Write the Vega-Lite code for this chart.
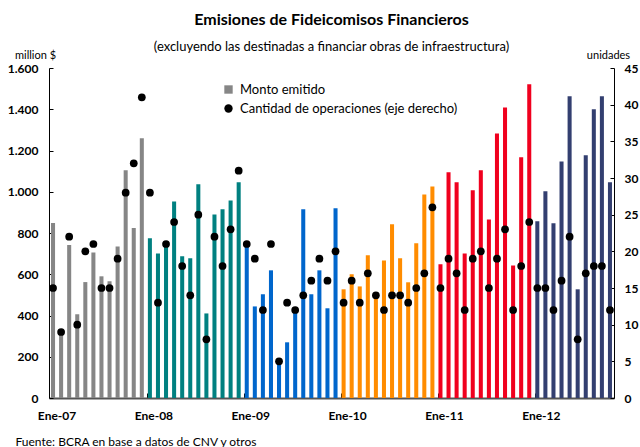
{
  "$schema": "https://vega.github.io/schema/vega-lite/v6.json",
  "width": 565,
  "height": 330,
  "autosize": {"type": "none"},
  "padding": {"left": 49, "top": 68, "right": 26, "bottom": 49},
  "config": {
    "view": {"stroke": null},
    "font": "Lato",
    "axis": {"grid": false},
    "legend": {
      "orient": "none",
      "legendX": 173,
      "legendY": 15,
      "title": null,
      "labelFontSize": 13,
      "labelFontWeight": "normal",
      "labelColor": "#000",
      "labelLimit": 400,
      "symbolSize": 70,
      "symbolStrokeWidth": 0,
      "rowPadding": 5,
      "labelOffset": 5,
      "padding": 0
    }
  },
  "title": {
    "text": "Emisiones de Fideicomisos Financieros",
    "subtitle": "(excluyendo las destinadas a financiar obras de infraestructura)",
    "fontSize": 16,
    "fontWeight": "bold",
    "color": "#000",
    "subtitleFontSize": 13,
    "subtitleColor": "#000",
    "anchor": "middle",
    "offset": -5,
    "subtitlePadding": 13
  },
  "data": {
    "values": [
      {"mes": "2007-01", "anio": "2007", "monto": 848, "ops": 15},
      {"mes": "2007-02", "anio": "2007", "monto": 315, "ops": 9},
      {"mes": "2007-03", "anio": "2007", "monto": 742, "ops": 22},
      {"mes": "2007-04", "anio": "2007", "monto": 406, "ops": 10},
      {"mes": "2007-05", "anio": "2007", "monto": 562, "ops": 20},
      {"mes": "2007-06", "anio": "2007", "monto": 706, "ops": 21},
      {"mes": "2007-07", "anio": "2007", "monto": 590, "ops": 15},
      {"mes": "2007-08", "anio": "2007", "monto": 566, "ops": 15},
      {"mes": "2007-09", "anio": "2007", "monto": 735, "ops": 19},
      {"mes": "2007-10", "anio": "2007", "monto": 1104, "ops": 28},
      {"mes": "2007-11", "anio": "2007", "monto": 824, "ops": 32},
      {"mes": "2007-12", "anio": "2007", "monto": 1259, "ops": 41},
      {"mes": "2008-01", "anio": "2008", "monto": 774, "ops": 28},
      {"mes": "2008-02", "anio": "2008", "monto": 701, "ops": 13},
      {"mes": "2008-03", "anio": "2008", "monto": 735, "ops": 21},
      {"mes": "2008-04", "anio": "2008", "monto": 953, "ops": 24},
      {"mes": "2008-05", "anio": "2008", "monto": 687, "ops": 18},
      {"mes": "2008-06", "anio": "2008", "monto": 677, "ops": 14},
      {"mes": "2008-07", "anio": "2008", "monto": 1036, "ops": 25},
      {"mes": "2008-08", "anio": "2008", "monto": 410, "ops": 8},
      {"mes": "2008-09", "anio": "2008", "monto": 890, "ops": 22},
      {"mes": "2008-10", "anio": "2008", "monto": 915, "ops": 18},
      {"mes": "2008-11", "anio": "2008", "monto": 958, "ops": 23},
      {"mes": "2008-12", "anio": "2008", "monto": 1046, "ops": 31},
      {"mes": "2009-01", "anio": "2009", "monto": 735, "ops": 21},
      {"mes": "2009-02", "anio": "2009", "monto": 444, "ops": 19},
      {"mes": "2009-03", "anio": "2009", "monto": 503, "ops": 12},
      {"mes": "2009-04", "anio": "2009", "monto": 619, "ops": 21},
      {"mes": "2009-05", "anio": "2009", "monto": 170, "ops": 5},
      {"mes": "2009-06", "anio": "2009", "monto": 270, "ops": 13},
      {"mes": "2009-07", "anio": "2009", "monto": 425, "ops": 12},
      {"mes": "2009-08", "anio": "2009", "monto": 915, "ops": 14},
      {"mes": "2009-09", "anio": "2009", "monto": 503, "ops": 16},
      {"mes": "2009-10", "anio": "2009", "monto": 619, "ops": 19},
      {"mes": "2009-11", "anio": "2009", "monto": 435, "ops": 16},
      {"mes": "2009-12", "anio": "2009", "monto": 920, "ops": 20},
      {"mes": "2010-01", "anio": "2010", "monto": 527, "ops": 13},
      {"mes": "2010-02", "anio": "2010", "monto": 600, "ops": 16},
      {"mes": "2010-03", "anio": "2010", "monto": 541, "ops": 13},
      {"mes": "2010-04", "anio": "2010", "monto": 692, "ops": 17},
      {"mes": "2010-05", "anio": "2010", "monto": 495, "ops": 14},
      {"mes": "2010-06", "anio": "2010", "monto": 667, "ops": 12},
      {"mes": "2010-07", "anio": "2010", "monto": 842, "ops": 14},
      {"mes": "2010-08", "anio": "2010", "monto": 677, "ops": 14},
      {"mes": "2010-09", "anio": "2010", "monto": 561, "ops": 13},
      {"mes": "2010-10", "anio": "2010", "monto": 750, "ops": 15},
      {"mes": "2010-11", "anio": "2010", "monto": 987, "ops": 17},
      {"mes": "2010-12", "anio": "2010", "monto": 1026, "ops": 26},
      {"mes": "2011-01", "anio": "2011", "monto": 648, "ops": 15},
      {"mes": "2011-02", "anio": "2011", "monto": 1094, "ops": 19},
      {"mes": "2011-03", "anio": "2011", "monto": 1046, "ops": 17},
      {"mes": "2011-04", "anio": "2011", "monto": 701, "ops": 12},
      {"mes": "2011-05", "anio": "2011", "monto": 1007, "ops": 19},
      {"mes": "2011-06", "anio": "2011", "monto": 1104, "ops": 20},
      {"mes": "2011-07", "anio": "2011", "monto": 866, "ops": 15},
      {"mes": "2011-08", "anio": "2011", "monto": 1283, "ops": 19},
      {"mes": "2011-09", "anio": "2011", "monto": 1409, "ops": 23},
      {"mes": "2011-10", "anio": "2011", "monto": 643, "ops": 12},
      {"mes": "2011-11", "anio": "2011", "monto": 1167, "ops": 18},
      {"mes": "2011-12", "anio": "2011", "monto": 1521, "ops": 24},
      {"mes": "2012-01", "anio": "2012", "monto": 857, "ops": 15},
      {"mes": "2012-02", "anio": "2012", "monto": 1002, "ops": 15},
      {"mes": "2012-03", "anio": "2012", "monto": 847, "ops": 12},
      {"mes": "2012-04", "anio": "2012", "monto": 1147, "ops": 16},
      {"mes": "2012-05", "anio": "2012", "monto": 1463, "ops": 22},
      {"mes": "2012-06", "anio": "2012", "monto": 527, "ops": 8},
      {"mes": "2012-07", "anio": "2012", "monto": 1177, "ops": 17},
      {"mes": "2012-08", "anio": "2012", "monto": 1400, "ops": 18},
      {"mes": "2012-09", "anio": "2012", "monto": 1463, "ops": 18},
      {"mes": "2012-10", "anio": "2012", "monto": 1046, "ops": 12}
    ]
  },
  "layer": [
    {
      "mark": {"type": "bar"},
      "encoding": {
        "x": {
          "field": "mes",
          "type": "ordinal",
          "scale": {"paddingInner": 0.5, "paddingOuter": 0.25},
          "axis": {
            "values": ["2007-01", "2008-01", "2009-01", "2010-01", "2011-01", "2012-01"],
            "labelExpr": "'Ene-' + substring(datum.value, 2, 4)",
            "bandPosition": 0,
            "labelOffset": 4,
            "labelAngle": 0,
            "tickSize": -5,
            "tickColor": "#000",
            "labelPadding": 17,
            "labelFontWeight": "bold",
            "labelFontSize": 12,
            "labelColor": "#000",
            "domainColor": "#555",
            "domainWidth": 2,
            "title": "Fuente: BCRA en base a datos de CNV y otros",
            "titleX": -34,
            "titleY": 38,
            "titleAlign": "left",
            "titleAnchor": "start",
            "titleBaseline": "top",
            "titleFontWeight": "normal",
            "titleFontSize": 12,
            "titleColor": "#000"
          }
        },
        "y": {
          "field": "monto",
          "type": "quantitative",
          "scale": {"domain": [0, 1600]},
          "axis": {
            "values": [0, 200, 400, 600, 800, 1000, 1200, 1400, 1600],
            "labelExpr": "replace(format(datum.value, ','), ',', '.')",
            "tickSize": -4,
            "tickColor": "#000",
            "domainColor": "#000",
            "labelPadding": 15,
            "labelFontWeight": "bold",
            "labelFontSize": 12,
            "labelColor": "#000",
            "title": "million $",
            "titleAngle": 0,
            "titleX": -14,
            "titleY": -13,
            "titleAlign": "center",
            "titleBaseline": "middle",
            "titleFontWeight": "normal",
            "titleFontSize": 11,
            "titleColor": "#000"
          }
        },
        "fill": {
          "field": "anio",
          "type": "nominal",
          "scale": {
            "domain": ["2007", "2008", "2009", "2010", "2011", "2012"],
            "range": ["#868686", "#008080", "#0066CC", "#FF8C00", "#F0001E", "#333F70"]
          },
          "legend": null
        }
      }
    },
    {
      "mark": {"type": "point", "filled": true, "size": 60, "opacity": 1},
      "encoding": {
        "x": {"field": "mes", "type": "ordinal"},
        "y": {
          "field": "ops",
          "type": "quantitative",
          "scale": {"domain": [0, 45]},
          "axis": {
            "orient": "right",
            "values": [0, 5, 10, 15, 20, 25, 30, 35, 40, 45],
            "tickSize": -4,
            "tickColor": "#000",
            "domainColor": "#000",
            "labelPadding": 14,
            "labelFontWeight": "bold",
            "labelFontSize": 12,
            "labelColor": "#000",
            "title": "unidades",
            "titleAngle": 0,
            "titleX": -6,
            "titleY": -13,
            "titleAlign": "center",
            "titleBaseline": "middle",
            "titleFontWeight": "normal",
            "titleFontSize": 11,
            "titleColor": "#000"
          }
        },
        "color": {
          "datum": "Cantidad de operaciones (eje derecho)",
          "scale": {
            "domain": ["Monto emitido", "Cantidad de operaciones (eje derecho)"],
            "range": ["#868686", "#000000"]
          },
          "legend": {"title": null}
        },
        "shape": {
          "datum": "Cantidad de operaciones (eje derecho)",
          "scale": {
            "domain": ["Monto emitido", "Cantidad de operaciones (eje derecho)"],
            "range": ["square", "circle"]
          },
          "legend": {"title": null}
        }
      }
    }
  ],
  "resolve": {"scale": {"y": "independent"}}
}
